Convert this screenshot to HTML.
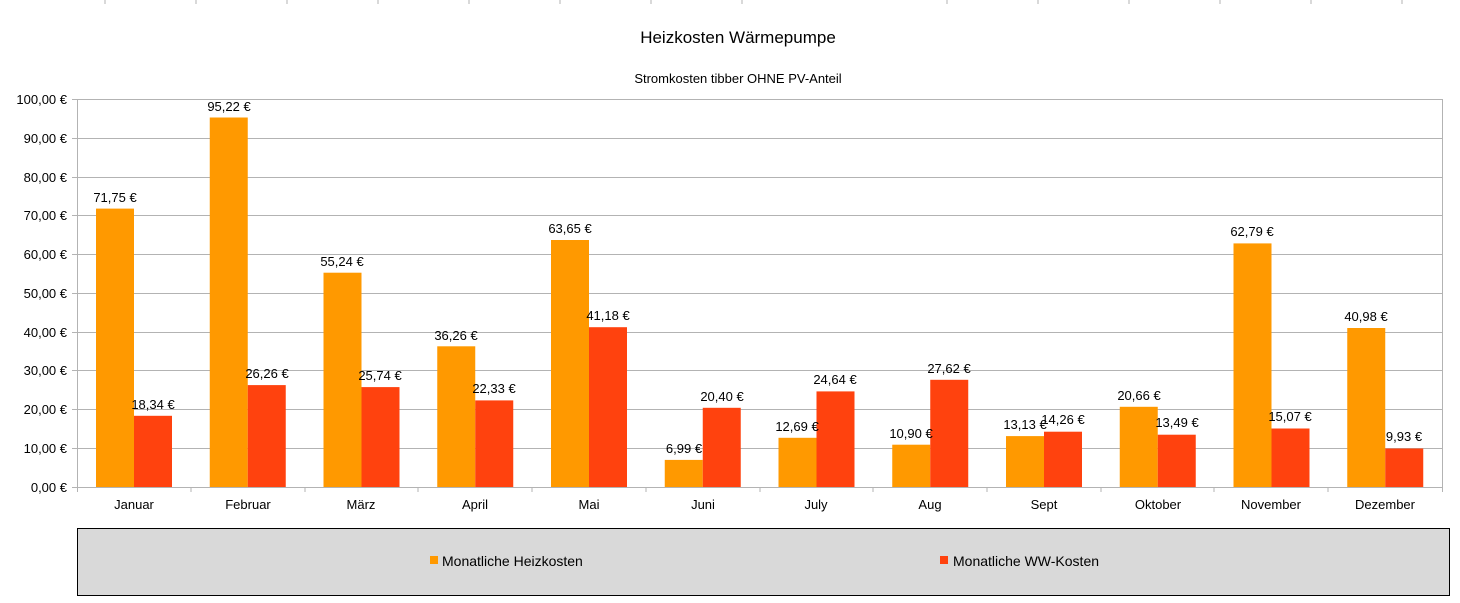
<!DOCTYPE html><html><head><meta charset="utf-8"><style>body{margin:0;background:#fff}svg{display:block}text{font-family:"Liberation Sans",sans-serif;fill:#000}</style></head><body>
<svg width="1460" height="603" xmlns="http://www.w3.org/2000/svg">
<g stroke="#b3b3b3" stroke-width="1">
<path d="M105 0v4M196 0v4M287 0v4M378 0v4M469 0v4M560 0v4M651 0v4M742 0v4M947 0v4M1038 0v4M1129 0v4M1220 0v4M1311 0v4M1402 0v4"/>
<path d="M72 99.5H1442M72 138.5H1442M72 177.5H1442M72 215.5H1442M72 254.5H1442M72 293.5H1442M72 332.5H1442M72 370.5H1442M72 409.5H1442M72 448.5H1442M72 487.5H1442"/>
<path d="M77.5 99V492M1442.5 99V492M191 487v5M305 487v5M418 487v5M532 487v5M646 487v5M760 487v5M873 487v5M987 487v5M1101 487v5M1214 487v5M1328 487v5"/>
</g>
<text x="738" y="43" font-size="17" text-anchor="middle">Heizkosten Wärmepumpe</text>
<text x="738" y="83" font-size="13" text-anchor="middle">Stromkosten tibber OHNE PV-Anteil</text>
<g font-size="13" text-anchor="end">
<text x="67" y="104">100,00 €</text><text x="67" y="143">90,00 €</text><text x="67" y="182">80,00 €</text><text x="67" y="220">70,00 €</text><text x="67" y="259">60,00 €</text><text x="67" y="298">50,00 €</text><text x="67" y="337">40,00 €</text><text x="67" y="375">30,00 €</text><text x="67" y="414">20,00 €</text><text x="67" y="453">10,00 €</text><text x="67" y="492">0,00 €</text>
</g>
<g fill="#ff9900">
<rect x="96" y="208.6" width="38" height="278.4"/><rect x="209.75" y="117.5" width="38" height="369.5"/><rect x="323.5" y="272.7" width="38" height="214.3"/><rect x="437.25" y="346.3" width="38" height="140.7"/><rect x="551" y="240" width="38" height="247"/><rect x="664.75" y="459.9" width="38" height="27.1"/><rect x="778.5" y="437.8" width="38" height="49.2"/><rect x="892.25" y="444.7" width="38" height="42.3"/><rect x="1006" y="436.1" width="38" height="50.9"/><rect x="1119.75" y="406.8" width="38" height="80.2"/><rect x="1233.5" y="243.4" width="38" height="243.6"/><rect x="1347.25" y="328" width="38" height="159"/>
</g>
<g fill="#ff420e">
<rect x="134" y="415.8" width="38" height="71.2"/><rect x="247.75" y="385.1" width="38" height="101.9"/><rect x="361.5" y="387.1" width="38" height="99.9"/><rect x="475.25" y="400.4" width="38" height="86.6"/><rect x="589" y="327.2" width="38" height="159.8"/><rect x="702.75" y="407.8" width="38" height="79.2"/><rect x="816.5" y="391.4" width="38" height="95.6"/><rect x="930.25" y="379.8" width="38" height="107.2"/><rect x="1044" y="431.7" width="38" height="55.3"/><rect x="1157.75" y="434.7" width="38" height="52.3"/><rect x="1271.5" y="428.5" width="38" height="58.5"/><rect x="1385.25" y="448.5" width="38" height="38.5"/>
</g>
<g font-size="13" text-anchor="middle">
<text x="115" y="202">71,75 €</text><text x="229" y="111">95,22 €</text><text x="342" y="266">55,24 €</text><text x="456" y="340">36,26 €</text><text x="570" y="233">63,65 €</text><text x="684" y="453">6,99 €</text><text x="797" y="431">12,69 €</text><text x="911" y="438">10,90 €</text><text x="1025" y="429">13,13 €</text><text x="1139" y="400">20,66 €</text><text x="1252" y="236">62,79 €</text><text x="1366" y="321">40,98 €</text>
<text x="153" y="409">18,34 €</text><text x="267" y="378">26,26 €</text><text x="380" y="380">25,74 €</text><text x="494" y="393">22,33 €</text><text x="608" y="320">41,18 €</text><text x="722" y="401">20,40 €</text><text x="835" y="384">24,64 €</text><text x="949" y="373">27,62 €</text><text x="1063" y="424">14,26 €</text><text x="1177" y="427">13,49 €</text><text x="1290" y="421">15,07 €</text><text x="1404" y="441">9,93 €</text>
</g>
<g font-size="13" text-anchor="middle">
<text x="134" y="509">Januar</text><text x="248" y="509">Februar</text><text x="361" y="509">März</text><text x="475" y="509">April</text><text x="589" y="509">Mai</text><text x="703" y="509">Juni</text><text x="816" y="509">July</text><text x="930" y="509">Aug</text><text x="1044" y="509">Sept</text><text x="1158" y="509">Oktober</text><text x="1271" y="509">November</text><text x="1385" y="509">Dezember</text>
</g>
<rect x="77.5" y="528.5" width="1372" height="67" fill="#d9d9d9" stroke="#000" stroke-width="1"/>
<rect x="430" y="556" width="8" height="8" fill="#ff9900"/>
<text x="442" y="566" font-size="14">Monatliche Heizkosten</text>
<rect x="940" y="556" width="8" height="8" fill="#ff420e"/>
<text x="953" y="566" font-size="14">Monatliche WW-Kosten</text>
</svg>
</body></html>
